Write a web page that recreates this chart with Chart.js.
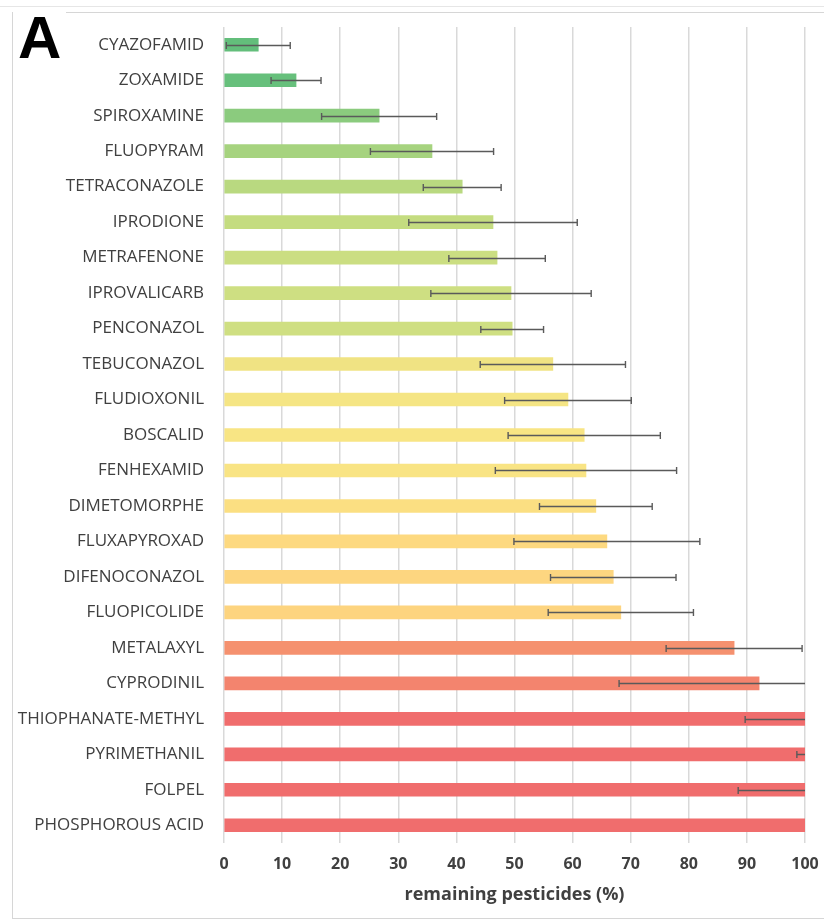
<!DOCTYPE html>
<html>
<head>
<meta charset="utf-8">
<script src="https://cdn.jsdelivr.net/npm/chart.js@4/dist/chart.umd.min.js"></script>
<style>
  html, body { margin: 0; padding: 0; background: #fff; }
  #wrap { position: relative; width: 824px; height: 924px; overflow: hidden; }
  #topline { position: absolute; left: 0; top: 6px; width: 824px; height: 1px; background: #e6e6e6; }
  #frame { position: absolute; left: 12px; top: 12px; width: 840px; height: 905px; border: 1px solid #d6d6d6; }
  #panel { position: absolute; left: 13px; top: 7px; padding: 0 5px; background: #fff;
           font: bold 60px "Liberation Sans", Arial, sans-serif; line-height: 62px; color: #000; }
  canvas { position: absolute; left: 0; top: 0; }
</style>
</head>
<body>
<div id="wrap">
  <div id="topline"></div>
  <div id="frame"></div>
  <canvas id="chart" width="824" height="924"></canvas>
  <div id="panel">A</div>
</div>
<script>
// Active substances, top to bottom
const pesticides = [
  'CYAZOFAMID', 'ZOXAMIDE', 'SPIROXAMINE', 'FLUOPYRAM', 'TETRACONAZOLE',
  'IPRODIONE', 'METRAFENONE', 'IPROVALICARB', 'PENCONAZOL', 'TEBUCONAZOL',
  'FLUDIOXONIL', 'BOSCALID', 'FENHEXAMID', 'DIMETOMORPHE', 'FLUXAPYROXAD',
  'DIFENOCONAZOL', 'FLUOPICOLIDE', 'METALAXYL', 'CYPRODINIL',
  'THIOPHANATE-METHYL', 'PYRIMETHANIL', 'FOLPEL', 'PHOSPHOROUS ACID'
];

// Mean remaining pesticide (%)
const remaining = [
  5.9, 12.4, 26.7, 35.8, 41.0,
  46.3, 47.0, 49.4, 49.6, 56.6,
  59.2, 62.0, 62.3, 64.0, 65.9,
  67.0, 68.3, 87.8, 92.1,
  100, 100, 100, 100
];

// Standard deviation (%)
const deviation = [
  5.5, 4.3, 9.9, 10.6, 6.7,
  14.5, 8.3, 13.8, 5.4, 12.5,
  10.9, 13.1, 15.6, 9.7, 16.0,
  10.8, 12.5, 11.7, 24.1,
  10.3, 1.4, 11.5, 0
];

// Axis ticks
const xTicks = [0, 10, 20, 30, 40, 50, 60, 70, 80, 90, 100];

// Colour scale, green (low) through yellow to red (high)
const barColors = [
  '#63be7b', '#67c07c', '#8bcb7e', '#a6d37f', '#b9d980',
  '#c4dc80', '#cbde82', '#cedf82', '#cfdf82', '#f0e383',
  '#f5e584', '#f8e584', '#f9e484', '#fbdf82', '#fdd980',
  '#fdd680', '#fdd47f', '#f5916f', '#f3846e',
  '#f06d6d', '#f06d6d', '#f06d6d', '#f06d6d'
];

const textGray = '#404040';

// Symmetric error bars, clipped to the plotting area like the axis maximum
const errorBars = {
  id: 'errorBars',
  afterDatasetsDraw(chart) {
    const { ctx, chartArea: a, scales: { x } } = chart;
    const meta = chart.getDatasetMeta(0);
    ctx.save();
    ctx.beginPath();
    ctx.rect(a.left - 2, a.top, a.right - a.left + 3, a.bottom - a.top);
    ctx.clip();
    ctx.strokeStyle = '#5a5a5a';
    ctx.lineWidth = 1.4;
    remaining.forEach((v, i) => {
      const e = deviation[i];
      if (!e) return;
      const cy = Math.round(meta.data[i].y) + 0.5;
      const lo = x.getPixelForValue(v - e);
      const hi = x.getPixelForValue(v + e);
      const cap = 3.5;
      ctx.beginPath();
      ctx.moveTo(lo, cy); ctx.lineTo(Math.min(hi, a.right), cy);
      ctx.moveTo(lo, cy - cap); ctx.lineTo(lo, cy + cap);
      if (hi <= a.right) { ctx.moveTo(hi, cy - cap); ctx.lineTo(hi, cy + cap); }
      ctx.stroke();
    });
    ctx.restore();
  }
};

new Chart(document.getElementById('chart'), {
  type: 'bar',
  data: {
    labels: pesticides,
    datasets: [{
      data: remaining,
      backgroundColor: barColors,
      borderWidth: 0,
      barThickness: 13
    }]
  },
  options: {
    indexAxis: 'y',
    responsive: false,
    animation: false,
    layout: { padding: { top: 27, right: 19, bottom: 18, left: 0 } },
    plugins: { legend: { display: false }, tooltip: { enabled: false } },
    scales: {
      y: {
        grid: { display: false },
        border: { display: false },
        ticks: {
          color: textGray,
          padding: 12,
          font: { family: '"Open Sans", sans-serif', size: 17 }
        },
        afterFit(scale) { scale.width = 224; }
      },
      x: {
        min: 0,
        max: 100,
        afterBuildTicks(scale) { scale.ticks = xTicks.map(v => ({ value: v })); },
        afterFit(scale) {
          scale.height = 63;
          scale.paddingLeft = 0;
          scale.paddingRight = 0;
        },
        grid: { color: '#d9d9d9', lineWidth: 1.5, drawTicks: false },
        border: { display: false },
        ticks: {
          color: textGray,
          padding: 12,
          font: { family: '"Open Sans", sans-serif', size: 16, weight: 'bold' }
        },
        title: {
          display: true,
          text: 'remaining pesticides (%)',
          color: textGray,
          padding: { top: 0, bottom: 0 },
          font: { family: '"Open Sans", sans-serif', size: 18, weight: 'bold' }
        }
      }
    }
  },
  plugins: [errorBars]
});
</script>
</body>
</html>
